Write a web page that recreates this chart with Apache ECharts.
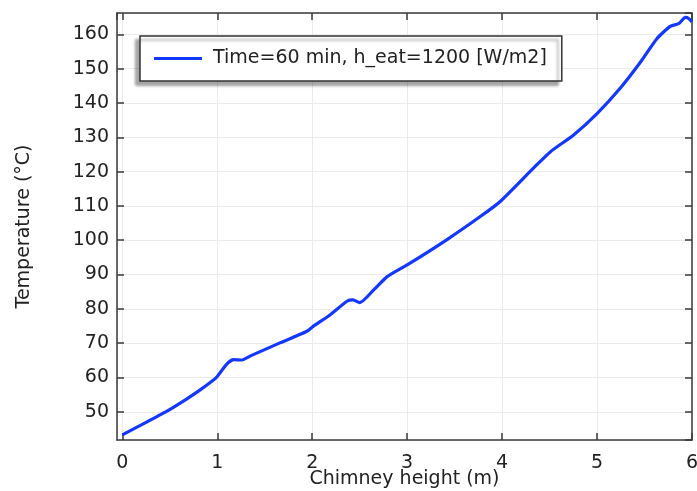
<!DOCTYPE html>
<html>
<head>
<meta charset="utf-8">
<script src="https://cdn.jsdelivr.net/npm/echarts@6/dist/echarts.min.js"></script>
<style>
  html, body { margin: 0; padding: 0; background: #fff; }
  #chart { width: 697px; height: 491px; }
</style>
</head>
<body>
<div id="chart"></div>
<script>
// 烟囱高度方向温度分布（读图估计值）
const heights = [0, 0.2, 0.47, 0.68, 0.82, 0.96, 1.0, 1.1, 1.17, 1.26, 1.35, 1.66, 1.94, 2.01, 2.19, 2.37, 2.43, 2.5, 2.65, 2.79, 3.0, 3.42, 3.77, 3.98, 4.33, 4.51, 4.75, 5.0, 5.25, 5.46, 5.63, 5.77, 5.86, 5.93, 5.965, 6.0];
const temps = [43.3, 46.2, 50.2, 53.8, 56.4, 59.3, 60.3, 63.9, 65.2, 65.1, 66.3, 70.1, 73.4, 74.9, 78.3, 82.3, 82.6, 81.8, 85.6, 89.4, 92.8, 100.2, 106.9, 111.3, 121.0, 125.8, 130.6, 136.9, 144.5, 152.0, 158.7, 162.3, 163.1, 164.9, 164.6, 163.6];
const seriesName = 'Time=60 min, h_eat=1200 [W/m2]';
const xTitle = 'Chimney height (m)';
const yTitle = 'Temperature (°C)';

const xRange = [-0.056, 6.0];
const yRange = [41.8, 166.2];

const font = 'DejaVu Sans';
const lineColor = '#1438ff';
const frame = { lineStyle: { color: '#3a3a3a', width: 1.5 } };

const chart = echarts.init(document.getElementById('chart'));

const baseX = {
  type: 'value', min: xRange[0], max: xRange[1], splitNumber: 6,
  axisLine: { show: true, onZero: false, ...frame },
  axisTick: { show: true, inside: true, length: 7, lineStyle: { color: '#3a3a3a', width: 1.5 } }
};
const baseY = {
  type: 'value', min: yRange[0], max: yRange[1], splitNumber: 12,
  axisLine: { show: true, onZero: false, ...frame },
  axisTick: { show: true, inside: true, length: 7, lineStyle: { color: '#3a3a3a', width: 1.5 } }
};

chart.setOption({
  animation: false,
  textStyle: { fontFamily: font },
  grid: { left: 117, right: 5, top: 13, bottom: 51, containLabel: false, outerBoundsMode: 'none' },
  legend: {
    left: 140, top: 36,
    padding: [13, 15, 13, 14],
    icon: 'rect', itemWidth: 48, itemHeight: 3,
    backgroundColor: '#fff',
    borderColor: '#333', borderWidth: 1.5, borderRadius: 0,
    shadowColor: 'rgba(0,0,0,0.35)', shadowBlur: 3, shadowOffsetX: -4, shadowOffsetY: 4,
    textStyle: { fontFamily: font, fontSize: 19, color: '#222', padding: [0, 0, 0, 6] },
    data: [seriesName]
  },
  xAxis: [
    {
      ...baseX, position: 'bottom',
      name: xTitle, nameLocation: 'middle', nameGap: 30, nameMoveOverlap: false,
      nameTextStyle: { fontFamily: font, fontSize: 19, color: '#222' },
      axisLabel: { showMinLabel: false, margin: 14, fontFamily: font, fontSize: 19, color: '#222' },
      splitLine: { show: true, lineStyle: { color: '#ebebeb', width: 1 } }
    },
    {
      ...baseX, position: 'top',
      axisLabel: { show: false }, splitLine: { show: false }
    }
  ],
  yAxis: [
    {
      ...baseY, position: 'left',
      name: yTitle, nameLocation: 'middle', nameGap: 83, nameRotate: 90, nameMoveOverlap: false,
      nameTextStyle: { fontFamily: font, fontSize: 19, color: '#222' },
      axisLabel: { showMinLabel: false, showMaxLabel: false, margin: 8, fontFamily: font, fontSize: 19, color: '#222' },
      splitLine: { show: true, lineStyle: { color: '#ebebeb', width: 1 } }
    },
    {
      ...baseY, position: 'right',
      axisLabel: { show: false }, splitLine: { show: false }
    }
  ],
  series: [{
    name: seriesName,
    type: 'line',
    xAxisIndex: 0, yAxisIndex: 0,
    data: heights.map((h, i) => [h, temps[i]]),
    smooth: 0.2,
    showSymbol: false, symbol: 'none',
    lineStyle: { color: lineColor, width: 3.2 },
    itemStyle: { color: lineColor }
  }]
});
</script>
</body>
</html>
